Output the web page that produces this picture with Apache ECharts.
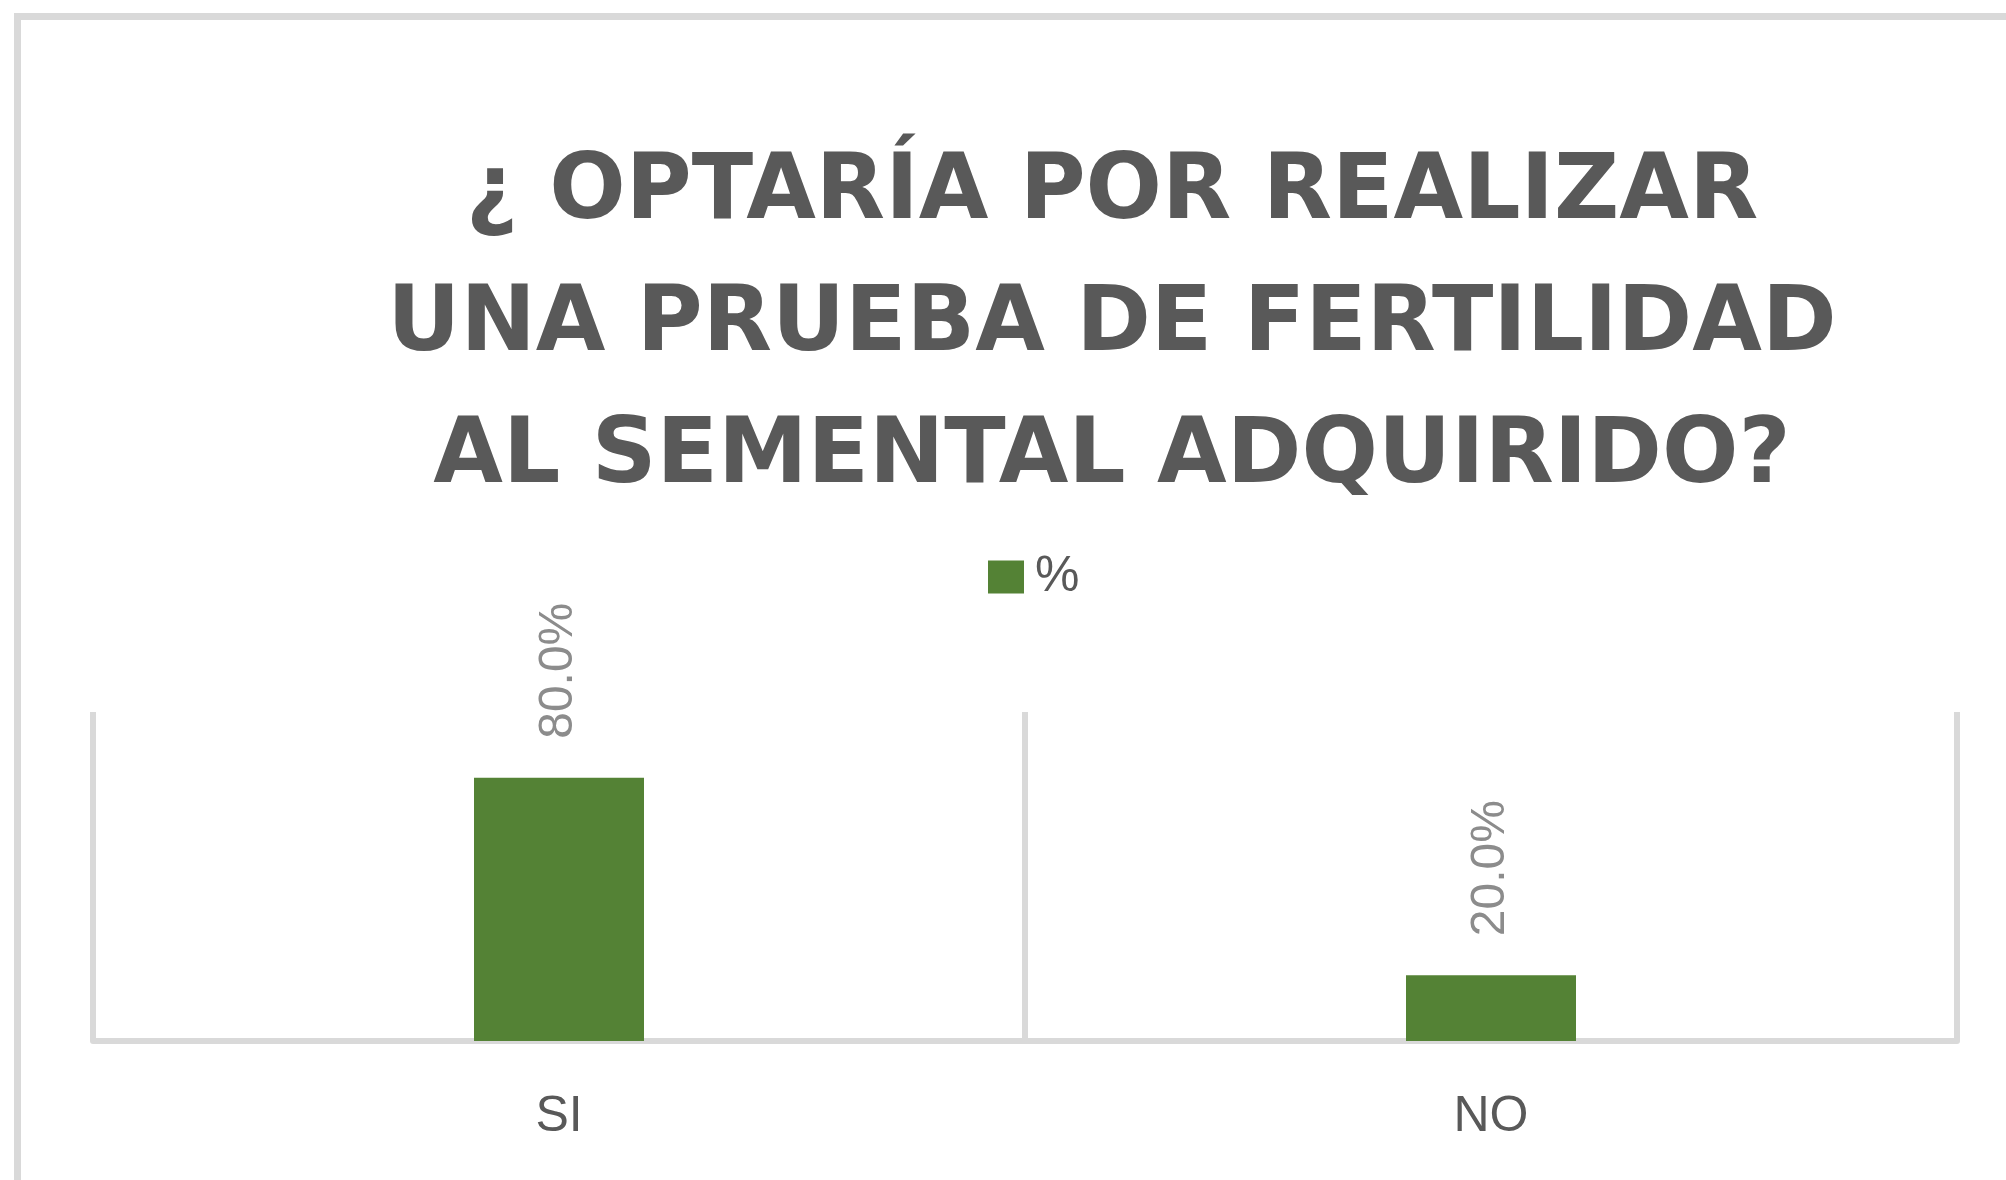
<!DOCTYPE html>
<html>
<head>
<meta charset="utf-8">
<script src="https://cdn.jsdelivr.net/npm/echarts@6/dist/echarts.min.js"></script>
<style>
html,body{margin:0;padding:0;background:#ffffff;}
#chart{width:2006px;height:1180px;}
</style>
</head>
<body>
<div id="chart"></div>
<script>
const titleText = "¿ OPTARÍA POR REALIZAR\nUNA PRUEBA DE FERTILIDAD\nAL SEMENTAL ADQUIRIDO?";
const categories = ["SI", "NO"];
const seriesName = "%";
const values = [0.80, 0.20];

const chart = echarts.init(document.getElementById('chart'), null, {renderer: 'canvas'});
chart.setOption({
  backgroundColor: '#ffffff',
  animation: false,
  graphic: [{
    type: 'rect',
    shape: {x: 17.5, y: 16.5, width: 2200, height: 1400},
    style: {fill: 'none', stroke: '#d9d9d9', lineWidth: 7},
    silent: true
  }],
  title: {
    text: titleText,
    left: 1107,
    top: 124,
    textAlign: 'center',
    textStyle: {
      fontFamily: 'DejaVu Sans',
      fontWeight: 'bold',
      fontSize: 90,
      lineHeight: 132,
      color: '#595959'
    }
  },
  legend: {
    data: [seriesName],
    left: 983,
    top: 547,
    itemWidth: 36,
    itemHeight: 33,
    icon: 'rect',
    textStyle: {
      fontFamily: 'Liberation Sans',
      fontSize: 50,
      color: '#595959',
      padding: [0, 0, 0, 6]
    }
  },
  grid: {left: 93, right: 49, top: 712, bottom: 139, containLabel: false},
  xAxis: {
    type: 'category',
    data: categories,
    axisLine: {show: true, lineStyle: {color: '#d9d9d9', width: 6}},
    axisTick: {show: false},
    splitLine: {show: true, interval: 0, lineStyle: {color: '#d9d9d9', width: 6}},
    axisLabel: {
      margin: 51,
      fontFamily: 'Liberation Sans',
      fontSize: 50,
      color: '#595959'
    }
  },
  yAxis: {
    type: 'value',
    min: 0,
    max: 1,
    interval: 0.2,
    show: false,
    splitLine: {show: false}
  },
  series: [{
    name: seriesName,
    type: 'bar',
    data: values,
    barWidth: 170,
    itemStyle: {color: '#548235'},
    label: {
      show: true,
      position: 'top',
      rotate: 90,
      align: 'left',
      verticalAlign: 'middle',
      distance: 39,
      fontFamily: 'Liberation Sans',
      fontSize: 48,
      color: '#8c8c8c',
      formatter: p => (p.value * 100).toFixed(1) + '%'
    }
  }]
});
</script>
</body>
</html>
